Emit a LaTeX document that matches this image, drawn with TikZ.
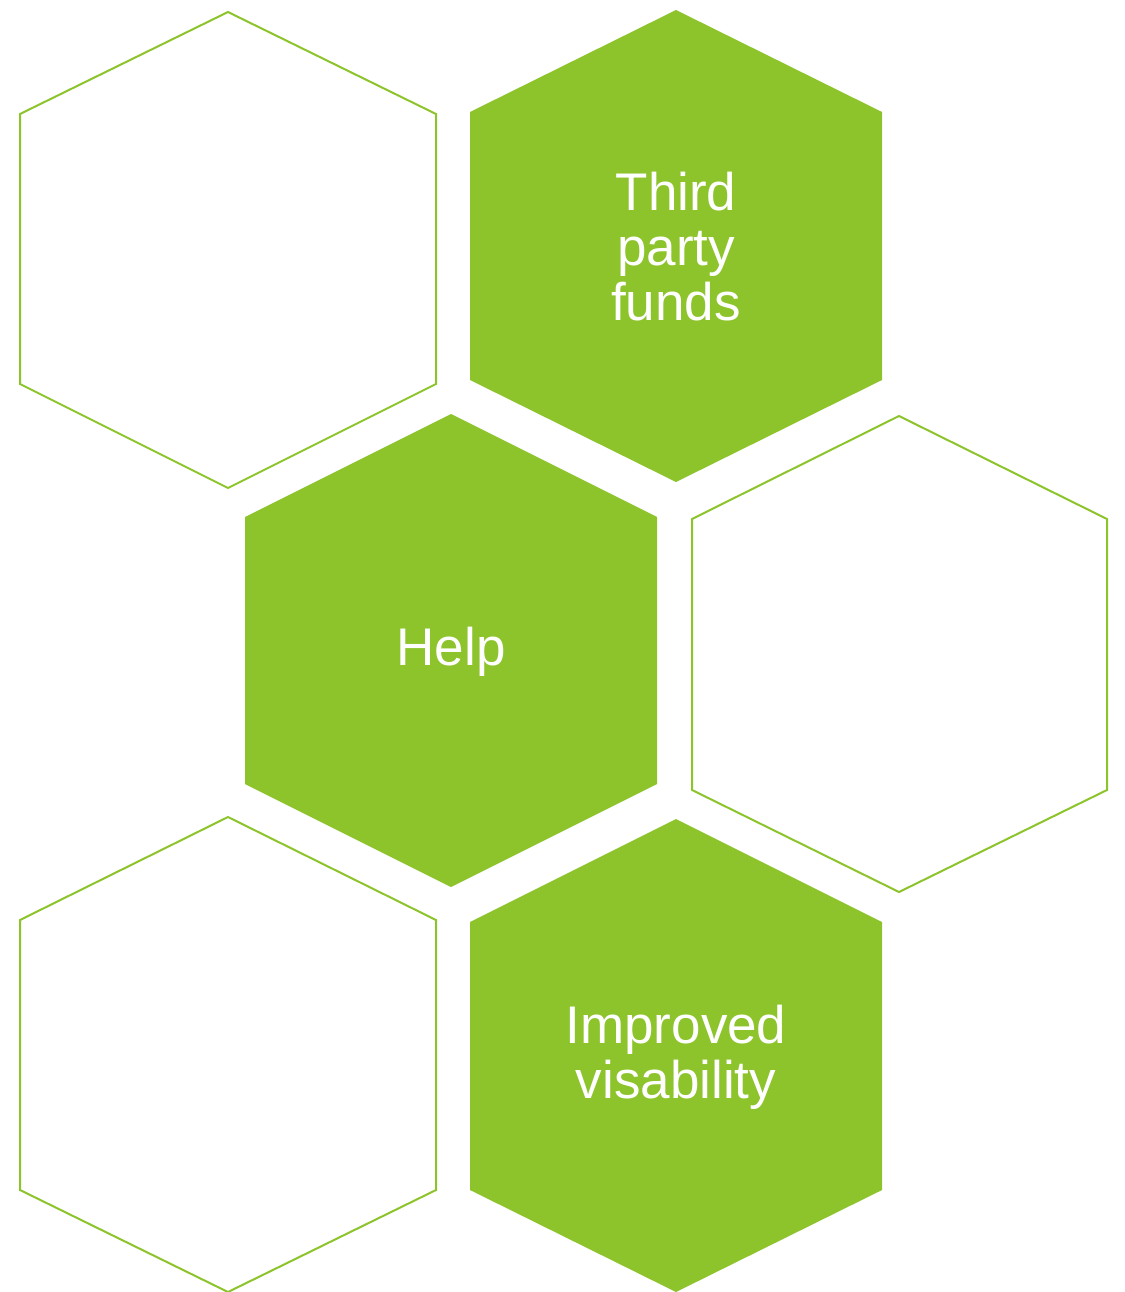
\documentclass[tikz,border=0pt]{standalone}
\usepackage{fontspec}
\setmainfont{Liberation Sans}
\definecolor{hexgreen}{HTML}{8DC42C}
\begin{document}
\begin{tikzpicture}[x=1pt,y=-1pt,
  hexfill/.style={fill=hexgreen,draw=none},
  hexline/.style={draw=hexgreen,line width=2pt,fill=white},
  lbl/.style={text=white,align=center,font=\fontsize{53}{55}\selectfont,inner sep=0pt}]
\useasboundingbox (0,0) rectangle (1124,1292);
% outline hexagons
\draw[hexline] (228,12) -- (436,114) -- (436,384) -- (228,488) -- (20,384) -- (20,114) -- cycle;
\draw[hexline] (899,416) -- (1107,519) -- (1107,790) -- (899,892) -- (692,790) -- (692,519) -- cycle;
\draw[hexline] (228,817) -- (436,920) -- (436,1190) -- (228,1292) -- (20,1190) -- (20,920) -- cycle;
% filled hexagons
\fill[hexfill] (676,10) -- (882,112) -- (882,380) -- (676,482) -- (470,380) -- (470,112) -- cycle;
\fill[hexfill] (451,414) -- (657,517) -- (657,784) -- (451,887) -- (245,784) -- (245,517) -- cycle;
\fill[hexfill] (676,819) -- (882,922) -- (882,1190) -- (676,1292) -- (470,1190) -- (470,922) -- cycle;
% labels
\node[lbl] (third) at (676,247) {Third\\party\\funds};
\node[lbl] (help) at (451,652) {Help};
\node[lbl] (improved) at (676,1057) {Improved\\visability};
\end{tikzpicture}
\end{document}
